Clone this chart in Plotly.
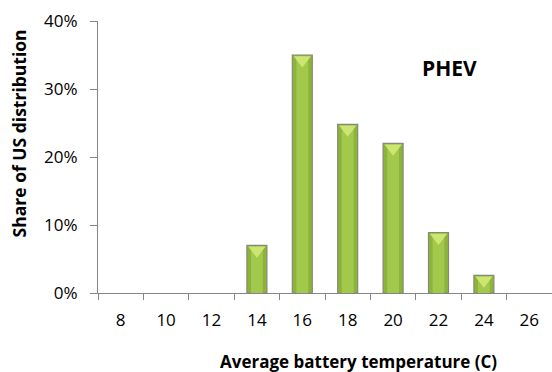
import plotly.graph_objects as go

categories = ["8", "10", "12", "14", "16", "18", "20", "22", "24", "26"]
share = [0, 0, 0, 0.070, 0.350, 0.248, 0.220, 0.089, 0.026, 0]
y_ticks = [0, 0.1, 0.2, 0.3, 0.4]
y_labels = ["0%", "10%", "20%", "30%", "40%"]

font = "Open Sans"
axis_col = "#868686"

shown = [v if v > 0 else None for v in share]
inner = [v - 0.002 if v > 0 else None for v in share]
tops = [v - 0.0072 if v > 0 else None for v in share]

fig = go.Figure()
fig.add_trace(go.Bar(x=categories, y=shown, width=0.44,
                     marker=dict(color="#8db438", line=dict(color="#85897a", width=1.2)),
                     hoverinfo="skip"))
fig.add_trace(go.Bar(x=categories, y=inner, width=0.26,
                     marker=dict(color="#a3c94c", line=dict(width=0)),
                     hoverinfo="skip"))
fig.add_trace(go.Scatter(x=categories, y=tops, mode="markers",
                         marker=dict(symbol="triangle-down", size=15, color="#cde673",
                                     line=dict(width=0)),
                         hoverinfo="skip"))

fig.update_layout(
    width=552, height=372,
    margin=dict(l=98, r=0, t=21, b=79),
    paper_bgcolor="white", plot_bgcolor="white",
    barmode="overlay", showlegend=False,
    font=dict(family=font, size=17, color="#000000"),
    xaxis=dict(type="category", categoryorder="array", categoryarray=categories,
               range=[-0.5, 9.5], showline=True, linecolor=axis_col,
               linewidth=1.3, ticks="outside", tickson="boundaries", ticklen=6,
               tickcolor=axis_col, showgrid=False, zeroline=False,
               ticklabelstandoff=11, tickfont=dict(size=17, family=font)),
    yaxis=dict(range=[0, 0.4], tickvals=y_ticks, ticktext=y_labels, showline=True,
               linecolor=axis_col, linewidth=1.3, ticks="outside", ticklen=7,
               tickcolor=axis_col, showgrid=False, zeroline=False,
               ticklabelstandoff=9, tickfont=dict(size=17, family=font)),
    annotations=[
        dict(text="<b>Average battery temperature (C)</b>", xref="paper", yref="paper",
             x=(358.5 - 98) / 454, y=-(361.7 - 293.3) / 272.3, showarrow=False,
             xanchor="center", yanchor="middle", font=dict(size=17, family=font)),
        dict(text="<b>Share of US distribution</b>", xref="paper", yref="paper",
             x=-(98 - 18.5) / 454, y=(293.3 - 134) / 272.3, showarrow=False,
             textangle=-90, xanchor="center", yanchor="middle",
             font=dict(size=17.5, family=font)),
        dict(text="<b>PHEV</b>", xref="paper", yref="paper",
             x=(449 - 98) / 454, y=(293.3 - 68) / 272.3, showarrow=False,
             xanchor="center", yanchor="middle", font=dict(size=21, family=font)),
    ],
)

fig.write_html("out.html")
